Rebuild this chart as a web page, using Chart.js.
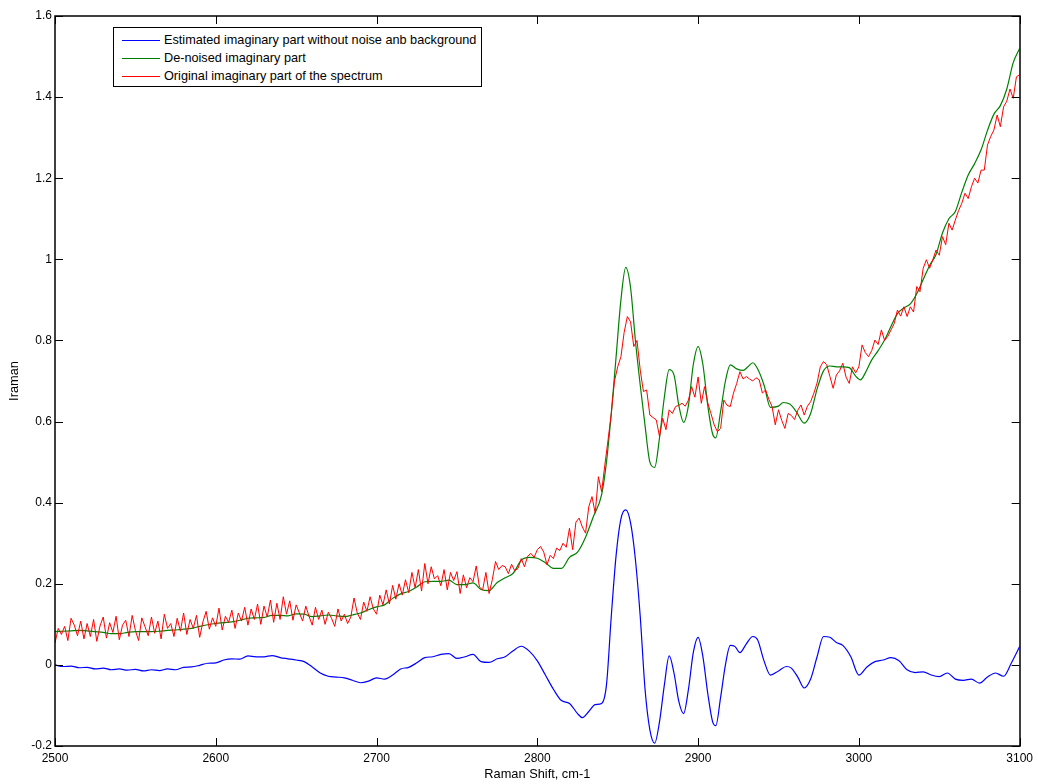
<!DOCTYPE html>
<html>
<head>
<meta charset="utf-8">
<title>Raman spectrum</title>
<script src="https://cdn.jsdelivr.net/npm/chart.js@4/dist/chart.umd.min.js"></script>
<style>
  html, body { margin: 0; padding: 0; background: #fff; }
  #wrap { position: relative; width: 1038px; height: 784px; }
  #legend {
    position: absolute; left: 113px; top: 27px; width: 367px; height: 58px;
    border: 1px solid #000; background: #fff;
    font: 12.7px "Liberation Sans", Arial, sans-serif; color: #000;
  }
  .row { position: absolute; left: 0; height: 14px; line-height: 14px; white-space: nowrap; }
  .row span.l { position: absolute; left: 8px; top: 7px; width: 38px; height: 0; border-top: 1px solid; }
  .row span.t { position: absolute; left: 50px; top: 0; }
</style>
</head>
<body>
<div id="wrap">
  <canvas id="ramanChart" width="1038" height="784"></canvas>
  <div id="legend">
    <div class="row" style="top:5px"><span class="l" style="border-color:#0000ff"></span><span class="t">Estimated imaginary part without noise anb background</span></div>
    <div class="row" style="top:23px"><span class="l" style="border-color:#008000"></span><span class="t">De-noised imaginary part</span></div>
    <div class="row" style="top:41px"><span class="l" style="border-color:#ff0000"></span><span class="t">Original imaginary part of the spectrum</span></div>
  </div>
</div>
<script>
// Estimated imaginary part (blue)
const blueShift = [
  2500, 2505, 2510, 2515, 2520, 2525, 2530, 2535, 2540, 2545, 2550, 2555, 2560, 2565, 2570, 2575,
  2580, 2585, 2590, 2595, 2600, 2605, 2610, 2615, 2620, 2625, 2630, 2635, 2640, 2645, 2650, 2655,
  2660, 2665, 2670, 2675, 2680, 2685, 2690, 2695, 2700, 2705, 2710, 2715, 2720, 2725, 2730, 2735,
  2740, 2745, 2750, 2755, 2760, 2765, 2770, 2775, 2780, 2785, 2790, 2795, 2800, 2805, 2810, 2815,
  2820, 2825, 2828, 2832, 2836, 2840, 2843, 2846, 2849, 2852, 2855, 2858, 2861, 2864, 2867, 2870,
  2873, 2876, 2879, 2882, 2885, 2888, 2891, 2894, 2897, 2900, 2903, 2906, 2909, 2911, 2914, 2917,
  2920, 2923, 2926, 2930, 2934, 2937, 2941, 2945, 2950, 2955, 2958, 2962, 2966, 2970, 2974, 2978,
  2982, 2986, 2990, 2995, 3000, 3005, 3010, 3015, 3020, 3025, 3030, 3035, 3040, 3045, 3050, 3055,
  3060, 3065, 3070, 3075, 3080, 3085, 3090, 3095, 3100
];
const blueIntensity = [
  0.000, -0.004, -0.003, -0.007, -0.006, -0.010, -0.008, -0.012, -0.010, -0.013, -0.011, -0.015, -0.012, -0.014, -0.010, -0.012,
  -0.006, -0.005, -0.001, 0.004, 0.005, 0.012, 0.015, 0.014, 0.022, 0.020, 0.020, 0.023, 0.018, 0.015, 0.012, 0.008,
  -0.005, -0.020, -0.028, -0.030, -0.032, -0.038, -0.044, -0.040, -0.032, -0.035, -0.025, -0.010, -0.006, 0.005, 0.018, 0.020,
  0.026, 0.028, 0.016, 0.020, 0.026, 0.008, 0.006, 0.015, 0.020, 0.035, 0.046, 0.034, 0.010, -0.025, -0.060, -0.088,
  -0.095, -0.120, -0.130, -0.115, -0.098, -0.095, -0.050, 0.120, 0.270, 0.360, 0.382, 0.350, 0.260, 0.120, -0.060, -0.160,
  -0.193, -0.140, -0.050, 0.022, -0.020, -0.090, -0.120, -0.060, 0.030, 0.068, 0.020, -0.070, -0.140, -0.150, -0.080, 0.000,
  0.048, 0.045, 0.030, 0.052, 0.070, 0.062, 0.010, -0.025, -0.015, -0.004, -0.008, -0.030, -0.057, -0.035, 0.020, 0.070,
  0.068, 0.055, 0.048, 0.020, -0.025, -0.005, 0.008, 0.012, 0.018, 0.010, -0.012, -0.019, -0.017, -0.025, -0.029, -0.020,
  -0.035, -0.038, -0.035, -0.045, -0.030, -0.020, -0.028, 0.006, 0.045
];

// De-noised imaginary part (green)
const greenShift = [
  2500, 2505, 2510, 2515, 2520, 2525, 2530, 2535, 2540, 2545, 2550, 2555, 2560, 2565, 2570, 2575,
  2580, 2585, 2590, 2595, 2600, 2605, 2610, 2615, 2620, 2625, 2630, 2635, 2640, 2645, 2650, 2655,
  2660, 2665, 2670, 2675, 2680, 2685, 2690, 2695, 2700, 2705, 2710, 2715, 2720, 2725, 2730, 2735,
  2740, 2745, 2750, 2755, 2760, 2765, 2770, 2775, 2780, 2785, 2790, 2795, 2800, 2805, 2810, 2815,
  2820, 2825, 2830, 2835, 2840, 2843, 2846, 2849, 2852, 2855, 2858, 2861, 2864, 2867, 2870, 2873,
  2876, 2879, 2882, 2885, 2888, 2891, 2894, 2897, 2900, 2903, 2906, 2909, 2911, 2914, 2917, 2920,
  2924, 2928, 2931, 2934, 2937, 2941, 2945, 2950, 2953, 2957, 2961, 2966, 2970, 2974, 2978, 2982,
  2986, 2990, 2994, 2998, 3001, 3004, 3008, 3012, 3016, 3020, 3024, 3028, 3032, 3036, 3040, 3044,
  3048, 3052, 3056, 3060, 3064, 3068, 3072, 3076, 3080, 3084, 3088, 3092, 3096, 3100
];
const greenIntensity = [
  0.082, 0.083, 0.084, 0.085, 0.084, 0.082, 0.080, 0.077, 0.077, 0.080, 0.082, 0.082, 0.082, 0.083, 0.085, 0.086,
  0.088, 0.090, 0.095, 0.099, 0.102, 0.104, 0.106, 0.110, 0.115, 0.116, 0.117, 0.122, 0.122, 0.121, 0.126, 0.125,
  0.119, 0.121, 0.123, 0.121, 0.119, 0.123, 0.128, 0.136, 0.143, 0.148, 0.164, 0.175, 0.181, 0.192, 0.205, 0.206,
  0.206, 0.209, 0.198, 0.198, 0.202, 0.186, 0.183, 0.203, 0.215, 0.226, 0.258, 0.265, 0.263, 0.252, 0.238, 0.238,
  0.265, 0.278, 0.315, 0.367, 0.420, 0.500, 0.620, 0.760, 0.900, 0.980, 0.930, 0.800, 0.690, 0.590, 0.500, 0.487,
  0.560, 0.660, 0.728, 0.715, 0.640, 0.598, 0.640, 0.740, 0.785, 0.740, 0.640, 0.570, 0.560, 0.625, 0.700, 0.740,
  0.730, 0.726, 0.735, 0.745, 0.730, 0.690, 0.635, 0.638, 0.647, 0.643, 0.625, 0.596, 0.620, 0.680, 0.725, 0.737,
  0.735, 0.735, 0.733, 0.712, 0.703, 0.720, 0.752, 0.775, 0.801, 0.835, 0.866, 0.880, 0.890, 0.915, 0.950, 0.985,
  1.012, 1.065, 1.100, 1.118, 1.165, 1.208, 1.236, 1.270, 1.318, 1.358, 1.379, 1.420, 1.485, 1.520
];

// Original imaginary part (red), sampled every 2 cm-1 from 2500 to 3100
const redFirst = 2500;
const redStep = 2;
const redIntensity = [
  0.054, 0.090, 0.075, 0.095, 0.060, 0.115, 0.098, 0.072, 0.108, 0.064,
  0.102, 0.070, 0.112, 0.058, 0.096, 0.118, 0.066, 0.104, 0.080, 0.120,
  0.062, 0.098, 0.110, 0.070, 0.122, 0.085, 0.060, 0.116, 0.094, 0.072,
  0.118, 0.078, 0.108, 0.064, 0.125, 0.090, 0.102, 0.070, 0.115, 0.083,
  0.128, 0.075, 0.112, 0.090, 0.122, 0.068, 0.106, 0.132, 0.088, 0.116,
  0.095, 0.140, 0.086, 0.120, 0.105, 0.135, 0.090, 0.128, 0.108, 0.142,
  0.098, 0.138, 0.112, 0.150, 0.100, 0.145, 0.118, 0.160, 0.105, 0.152,
  0.112, 0.168, 0.125, 0.158, 0.110, 0.148, 0.128, 0.108, 0.145, 0.120,
  0.098, 0.142, 0.112, 0.135, 0.100, 0.130, 0.115, 0.095, 0.138, 0.108,
  0.125, 0.102, 0.118, 0.165, 0.128, 0.112, 0.155, 0.132, 0.168, 0.138,
  0.125, 0.172, 0.148, 0.185, 0.150, 0.196, 0.162, 0.200, 0.172, 0.210,
  0.178, 0.228, 0.190, 0.235, 0.182, 0.250, 0.200, 0.242, 0.212, 0.220,
  0.195, 0.235, 0.185, 0.228, 0.208, 0.230, 0.176, 0.222, 0.190, 0.215,
  0.205, 0.244, 0.192, 0.185, 0.228, 0.176, 0.210, 0.255, 0.235, 0.245,
  0.242, 0.225, 0.248, 0.232, 0.238, 0.262, 0.242, 0.268, 0.275, 0.265,
  0.284, 0.292, 0.278, 0.247, 0.270, 0.262, 0.288, 0.282, 0.300, 0.290,
  0.337, 0.284, 0.352, 0.362, 0.340, 0.325, 0.390, 0.415, 0.374, 0.464,
  0.427, 0.493, 0.555, 0.620, 0.700, 0.735, 0.760, 0.820, 0.859, 0.846,
  0.785, 0.800, 0.727, 0.674, 0.678, 0.616, 0.610, 0.604, 0.563, 0.608,
  0.580, 0.629, 0.620, 0.637, 0.640, 0.645, 0.638, 0.653, 0.686, 0.660,
  0.710, 0.645, 0.686, 0.646, 0.620, 0.592, 0.575, 0.583, 0.653, 0.640,
  0.637, 0.670, 0.694, 0.723, 0.705, 0.711, 0.705, 0.700, 0.708, 0.703,
  0.670, 0.678, 0.655, 0.637, 0.592, 0.629, 0.603, 0.583, 0.620, 0.615,
  0.605, 0.628, 0.641, 0.616, 0.638, 0.649, 0.670, 0.695, 0.735, 0.748,
  0.740, 0.711, 0.682, 0.715, 0.725, 0.744, 0.710, 0.694, 0.735, 0.720,
  0.735, 0.789, 0.770, 0.760, 0.775, 0.801, 0.790, 0.826, 0.800, 0.810,
  0.826, 0.842, 0.875, 0.860, 0.883, 0.859, 0.883, 0.870, 0.933, 0.920,
  0.978, 0.999, 0.978, 0.999, 1.023, 1.010, 1.056, 1.036, 1.089, 1.072,
  1.097, 1.120, 1.138, 1.163, 1.150, 1.179, 1.200, 1.188, 1.220, 1.220,
  1.282, 1.303, 1.319, 1.356, 1.327, 1.376, 1.390, 1.420, 1.397, 1.450,
  1.455
];

// Axis ticks
const xTicks = [2500, 2600, 2700, 2800, 2900, 3000, 3100];
const yTicks = [-0.2, 0, 0.2, 0.4, 0.6, 0.8, 1, 1.2, 1.4, 1.6];

const pairs = (xs, ys) => ys.map((v, i) => ({ x: xs[i], y: v }));
const redPoints = redIntensity.map((v, i) => ({ x: redFirst + i * redStep, y: v }));

// MATLAB style box with inward ticks
const matlabAxes = {
  id: 'matlabAxes',
  afterDatasetsDraw(chart) {
    const { ctx, chartArea: a, scales: { x, y } } = chart;
    const len = 8;
    ctx.save();
    ctx.strokeStyle = '#000';
    ctx.lineWidth = 1;
    ctx.beginPath();
    xTicks.forEach(v => {
      const px = Math.round(x.getPixelForValue(v)) + 0.5;
      ctx.moveTo(px, a.bottom); ctx.lineTo(px, a.bottom - len);
      ctx.moveTo(px, a.top);    ctx.lineTo(px, a.top + len);
    });
    yTicks.forEach(v => {
      const py = Math.round(y.getPixelForValue(v)) + 0.5;
      ctx.moveTo(a.left, py);  ctx.lineTo(a.left + len, py);
      ctx.moveTo(a.right, py); ctx.lineTo(a.right - len, py);
    });
    ctx.stroke();
    ctx.lineWidth = 1.5;
    ctx.strokeRect(Math.round(a.left), Math.round(a.top), Math.round(a.width), Math.round(a.height));
    ctx.restore();
  }
};

const font = { family: '"Liberation Sans", Arial, sans-serif', size: 12 };
const titleFont = { family: '"Liberation Sans", Arial, sans-serif', size: 12.8 };

new Chart(document.getElementById('ramanChart'), {
  type: 'line',
  data: {
    datasets: [
      {
        label: 'Estimated imaginary part without noise anb background',
        data: pairs(blueShift, blueIntensity),
        borderColor: '#0000ff',
        borderWidth: 1.2,
        pointRadius: 0,
        cubicInterpolationMode: 'monotone',
        order: 3,
      },
      {
        label: 'De-noised imaginary part',
        data: pairs(greenShift, greenIntensity),
        borderColor: '#008000',
        borderWidth: 1.2,
        pointRadius: 0,
        cubicInterpolationMode: 'monotone',
        order: 2,
      },
      {
        label: 'Original imaginary part of the spectrum',
        data: redPoints,
        borderColor: '#ff0000',
        borderWidth: 1,
        pointRadius: 0,
        tension: 0,
        order: 1,
      },
    ],
  },
  options: {
    responsive: false,
    animation: false,
    devicePixelRatio: 1,
    layout: { padding: { top: 16, right: 16, left: 0, bottom: 0 } },
    plugins: { legend: { display: false }, tooltip: { enabled: false } },
    scales: {
      x: {
        type: 'linear',
        min: 2500,
        max: 3100,
        afterFit: s => { s.height = 38; },
        afterBuildTicks: s => { s.ticks = xTicks.map(v => ({ value: v })); },
        grid: { display: false, drawTicks: false },
        border: { display: false },
        ticks: { color: '#000', font, padding: 5, maxRotation: 0, callback: v => String(v) },
        title: { display: true, text: 'Raman Shift, cm-1', color: '#000', font: titleFont, padding: { top: 0, bottom: 2 } },
      },
      y: {
        type: 'linear',
        min: -0.2,
        max: 1.6,
        afterFit: s => { s.width = 55; },
        afterBuildTicks: s => { s.ticks = yTicks.map(v => ({ value: v })); },
        grid: { display: false, drawTicks: false },
        border: { display: false },
        ticks: { color: '#000', font, padding: 3, callback: v => String(Number(v.toFixed(1))) },
        title: { display: true, text: 'Iraman', color: '#000', font: titleFont, padding: { top: 7, bottom: 0 } },
      },
    },
  },
  plugins: [matlabAxes],
});
</script>
</body>
</html>
